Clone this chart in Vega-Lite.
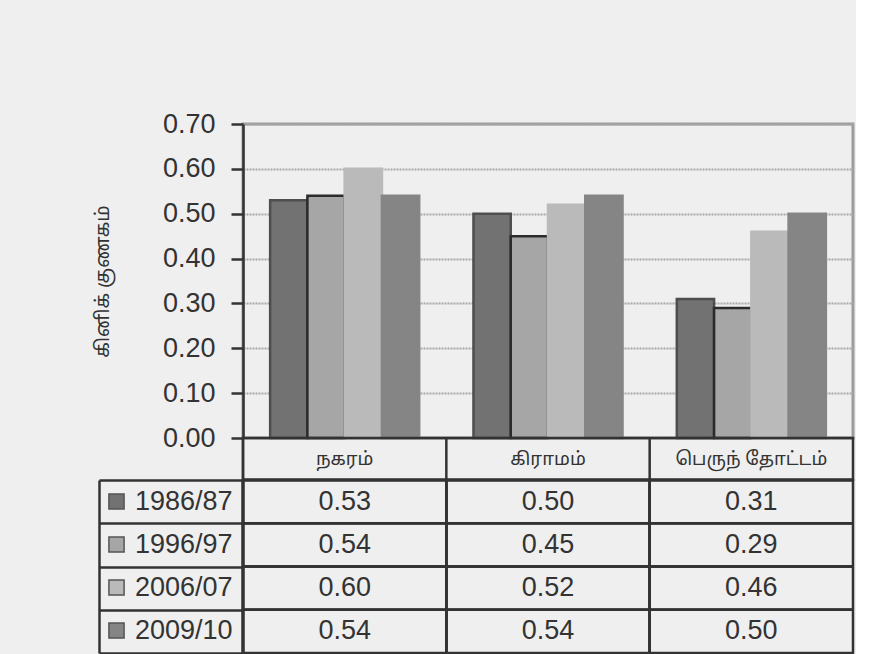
{
  "$schema": "https://vega.github.io/schema/vega-lite/v6.json",
  "background": "#efefef",
  "padding": {"left": 91, "top": 108, "right": 0, "bottom": 0},
  "spacing": 0,
  "bounds": "flush",
  "config": {
    "font": "Liberation Sans",
    "text": {"font": "Liberation Sans"}
  },
  "datasets": {
    "gini": [
      {"area": "நகரம்", "year": "1986/87", "value": 0.53},
      {"area": "நகரம்", "year": "1996/97", "value": 0.54},
      {"area": "நகரம்", "year": "2006/07", "value": 0.60},
      {"area": "நகரம்", "year": "2009/10", "value": 0.54},
      {"area": "கிராமம்", "year": "1986/87", "value": 0.50},
      {"area": "கிராமம்", "year": "1996/97", "value": 0.45},
      {"area": "கிராமம்", "year": "2006/07", "value": 0.52},
      {"area": "கிராமம்", "year": "2009/10", "value": 0.54},
      {"area": "பெருந் தோட்டம்", "year": "1986/87", "value": 0.31},
      {"area": "பெருந் தோட்டம்", "year": "1996/97", "value": 0.29},
      {"area": "பெருந் தோட்டம்", "year": "2006/07", "value": 0.46},
      {"area": "பெருந் தோட்டம்", "year": "2009/10", "value": 0.50}
    ],
    "areas": [
      {"area": "நகரம்"},
      {"area": "கிராமம்"},
      {"area": "பெருந் தோட்டம்"}
    ]
  },
  "vconcat": [
    {
      "width": 610,
      "height": 314,
      "data": {"name": "gini"},
      "view": {"stroke": "#9c9c9c", "strokeWidth": 3},
      "mark": {"type": "bar", "strokeWidth": 2.5},
      "encoding": {
        "x": {
          "field": "area", "type": "nominal",
          "sort": ["நகரம்", "கிராமம்", "பெருந் தோட்டம்"],
          "scale": {"paddingInner": 0.267, "paddingOuter": 0.1335},
          "axis": null
        },
        "xOffset": {
          "field": "year", "type": "nominal",
          "sort": ["1986/87", "1996/97", "2006/07", "2009/10"],
          "scale": {"paddingInner": 0, "paddingOuter": 0}
        },
        "y": {
          "field": "value", "type": "quantitative",
          "scale": {"domain": [0, 0.7], "nice": false},
          "axis": {
            "values": [0, 0.1, 0.2, 0.3, 0.4, 0.5, 0.6, 0.7],
            "format": ".2f",
            "title": "கினிக் குணகம்",
            "titleFont": "Noto Sans Tamil, Lohit Tamil, Liberation Sans, sans-serif",
            "titleFontSize": 19,
            "titleFontWeight": "normal",
            "titleColor": "#333333",
            "titlePadding": 50,
            "labelFontSize": 27,
            "labelColor": "#333333",
            "labelPadding": 16,
            "tickSize": 12,
            "tickWidth": 2.5,
            "tickColor": "#333333",
            "domainColor": "#333333",
            "domainWidth": 2.5,
            "grid": true,
            "gridColor": "#a8a8a8",
            "gridWidth": 2,
            "gridDash": [2, 1]
          }
        },
        "color": {
          "field": "year", "type": "nominal",
          "sort": ["1986/87", "1996/97", "2006/07", "2009/10"],
          "scale": {"range": ["#727272", "#a6a6a6", "#bababa", "#858585"]},
          "legend": {
            "orient": "none",
            "legendX": -140,
            "legendY": 364,
            "title": null,
            "symbolType": "square",
            "symbolSize": 230,
            "symbolStrokeColor": "#555555",
            "symbolStrokeWidth": 1.5,
            "labelFontSize": 27,
            "labelColor": "#333333",
            "labelOffset": 5,
            "rowPadding": 15
          }
        },
        "stroke": {
          "field": "year", "type": "nominal",
          "sort": ["1986/87", "1996/97", "2006/07", "2009/10"],
          "scale": {"range": ["#4e4e4e", "#2b2b2b", "#bababa", "#858585"]},
          "legend": null
        }
      }
    },
    {
      "width": 610,
      "height": 42,
      "data": {"name": "areas"},
      "view": {"stroke": "#333333", "strokeWidth": 2.5},
      "layer": [
        {
          "mark": {"type": "rule", "color": "#333333", "strokeWidth": 2.5},
          "encoding": {
            "x": {
              "field": "area", "type": "nominal",
              "sort": ["நகரம்", "கிராமம்", "பெருந் தோட்டம்"],
              "bandPosition": 0,
              "scale": {"padding": 0},
              "axis": null
            }
          }
        },
        {
          "mark": {"type": "text", "fontSize": 18.5, "color": "#333333", "font": "Noto Sans Tamil, Lohit Tamil, Liberation Sans, sans-serif"},
          "encoding": {
            "x": {
              "field": "area", "type": "nominal",
              "sort": ["நகரம்", "கிராமம்", "பெருந் தோட்டம்"],
              "axis": null
            },
            "text": {"field": "area"}
          }
        }
      ]
    },
    {
      "width": 610,
      "height": 173,
      "data": {"name": "gini"},
      "view": {"stroke": "#333333", "strokeWidth": 2.5},
      "layer": [
        {
          "mark": {"type": "rule", "color": "#333333", "strokeWidth": 2.5},
          "encoding": {
            "y": {
              "field": "year", "type": "nominal",
              "sort": ["1986/87", "1996/97", "2006/07", "2009/10"],
              "bandPosition": 0,
              "scale": {"padding": 0},
              "axis": {
                "offset": 144,
                "tickSize": -144,
                "tickBand": "extent",
                "labels": false,
                "title": null,
                "domainColor": "#333333",
                "domainWidth": 2.5,
                "tickColor": "#333333",
                "tickWidth": 2.5
              }
            }
          }
        },
        {
          "mark": {"type": "rule", "color": "#333333", "strokeWidth": 2.5},
          "encoding": {
            "x": {
              "field": "area", "type": "nominal",
              "sort": ["நகரம்", "கிராமம்", "பெருந் தோட்டம்"],
              "bandPosition": 0,
              "scale": {"padding": 0},
              "axis": null
            }
          }
        },
        {
          "mark": {"type": "text", "fontSize": 27, "color": "#333333"},
          "encoding": {
            "x": {
              "field": "area", "type": "nominal",
              "sort": ["நகரம்", "கிராமம்", "பெருந் தோட்டம்"],
              "axis": null
            },
            "y": {
              "field": "year", "type": "nominal",
              "sort": ["1986/87", "1996/97", "2006/07", "2009/10"]
            },
            "text": {"field": "value", "type": "quantitative", "format": ".2f"}
          }
        }
      ]
    }
  ]
}
